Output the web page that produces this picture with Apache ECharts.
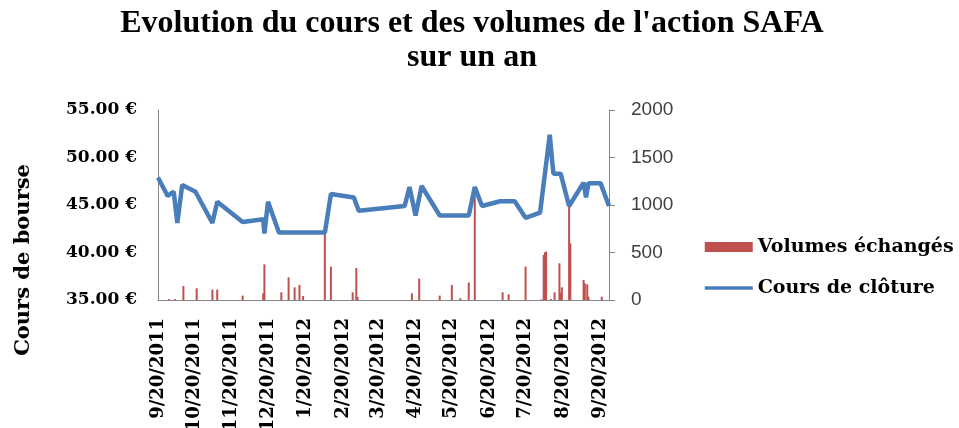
<!DOCTYPE html>
<html>
<head>
<meta charset="utf-8">
<script src="https://cdn.jsdelivr.net/npm/echarts@6/dist/echarts.min.js"></script>
<style>
  html, body { margin: 0; padding: 0; background: #fff; }
  #chart { width: 959px; height: 428px; }
</style>
</head>
<body>
<div id="chart"></div>
<script>
// closing price (left axis)
var coursDates = ['2011-09-20', '2011-09-28', '2011-10-03', '2011-10-06', '2011-10-10', '2011-10-21',
  '2011-11-04', '2011-11-08', '2011-11-29', '2011-12-16', '2011-12-17', '2011-12-20', '2011-12-29',
  '2012-02-05', '2012-02-10', '2012-02-29', '2012-03-04', '2012-04-11', '2012-04-15', '2012-04-20',
  '2012-04-25', '2012-05-10', '2012-06-03', '2012-06-08', '2012-06-14', '2012-06-29', '2012-07-11',
  '2012-07-20', '2012-08-01', '2012-08-09', '2012-08-12', '2012-08-18', '2012-08-25', '2012-09-06',
  '2012-09-08', '2012-09-10', '2012-09-20', '2012-09-27']
var coursValues = [47.9, 45.95, 46.4, 43.1, 47.1, 46.4,
  43.1, 45.35, 43.2, 43.5, 42.0, 45.35, 42.1,
  42.1, 46.15, 45.8, 44.4, 44.9, 46.9, 43.9,
  47.0, 43.9, 43.9, 46.9, 44.9, 45.4, 45.4,
  43.65, 44.2, 52.4, 48.3, 48.3, 44.9, 47.35,
  45.8, 47.3, 47.3, 44.9]

// traded volumes (right axis)
var volumeDates = ['2011-09-29', '2011-10-04', '2011-10-11', '2011-10-22', '2011-11-04', '2011-11-08',
  '2011-11-29', '2011-12-16', '2011-12-17', '2011-12-31', '2012-01-06', '2012-01-11', '2012-01-15',
  '2012-01-18', '2012-02-05', '2012-02-10', '2012-02-28', '2012-03-02', '2012-03-03', '2012-04-17',
  '2012-04-23', '2012-05-10', '2012-05-20', '2012-05-27', '2012-06-03', '2012-06-08', '2012-07-01',
  '2012-07-06', '2012-07-20', '2012-08-02', '2012-08-04', '2012-08-05', '2012-08-06', '2012-08-10',
  '2012-08-13', '2012-08-17', '2012-08-18', '2012-08-19', '2012-08-25', '2012-08-26', '2012-09-06',
  '2012-09-07', '2012-09-09', '2012-09-10', '2012-09-21']
var volumeValues = [10, 10, 147, 123, 109, 109,
  46, 70, 375, 81, 239, 133, 158,
  42, 695, 351, 81, 337, 32, 70,
  225, 46, 158, 18, 184, 1158, 81,
  60, 351, 7, 474, 502, 509, 10,
  81, 386, 77, 133, 990, 597, 211,
  175, 165, 35, 35]

var tickDates = ['2011-09-20', '2011-10-20', '2011-11-20', '2011-12-20', '2012-01-20', '2012-02-20',
  '2012-03-20', '2012-04-20', '2012-05-20', '2012-06-20', '2012-07-20', '2012-08-20', '2012-09-20']
var tickLabels = ['9/20/2011', '10/20/2011', '11/20/2011', '12/20/2011', '1/20/2012', '2/20/2012',
  '3/20/2012', '4/20/2012', '5/20/2012', '6/20/2012', '7/20/2012', '8/20/2012', '9/20/2012']

var xMin = '2011-09-20'
var xMax = '2012-09-27'

function toTime(s) {
  return echarts.time.parse(s).getTime()
}

var tickTimes = tickDates.map(toTime)
var serif = 'DejaVu Serif'
var axisGray = '#868686'

var chart = echarts.init(document.getElementById('chart'))

var option = {
  backgroundColor: '#fff',
  animation: false,
  title: {
    text: "Evolution du cours et des volumes de l'action SAFA\nsur un an",
    left: 467,
    top: 2,
    textAlign: 'center',
    textStyle: {
      fontFamily: 'Liberation Serif',
      fontWeight: 'bold',
      fontSize: 32,
      lineHeight: 34,
      color: '#000'
    }
  },
  legend: {
    orient: 'vertical',
    left: 698,
    top: 231,
    itemWidth: 48,
    itemHeight: 10,
    itemGap: 19,
    data: [
      { name: 'Volumes échangés', icon: 'rect' },
      { name: 'Cours de clôture', itemStyle: { opacity: 0 }, lineStyle: { width: 3.5 } }
    ],
    textStyle: {
      fontFamily: serif,
      fontWeight: 'bold',
      fontSize: 19,
      lineHeight: 22,
      color: '#000'
    }
  },
  graphic: [{
    type: 'text',
    x: 24,
    y: 260,
    rotation: Math.PI / 2,
    style: {
      text: 'Cours de bourse',
      fontFamily: serif,
      fontWeight: 'bold',
      fontSize: 21,
      fill: '#000',
      textAlign: 'center',
      textVerticalAlign: 'middle'
    }
  }],
  grid: {
    left: 158,
    right: 350,
    top: 110,
    bottom: 128,
    outerBoundsMode: 'none'
  },
  xAxis: {
    // dates as timestamps on a value axis, labels on the 20th of each month
    type: 'value',
    min: toTime(xMin),
    max: toTime(xMax),
    axisLine: { lineStyle: { color: axisGray, width: 1 } },
    axisTick: { show: false },
    splitLine: { show: false },
    axisLabel: {
      customValues: tickTimes,
      rotate: 90,
      margin: 18,
      fontFamily: serif,
      fontWeight: 'bold',
      fontSize: 18,
      color: '#000',
      formatter: function (value) {
        var i = tickTimes.indexOf(value)
        return i >= 0 ? tickLabels[i] : ''
      }
    }
  },
  yAxis: [{
    type: 'value',
    position: 'left',
    min: 35,
    max: 55,
    interval: 5,
    axisLine: { show: true, lineStyle: { color: axisGray, width: 1 } },
    axisTick: { show: false },
    splitLine: { show: false },
    axisLabel: {
      margin: 21,
      fontFamily: serif,
      fontWeight: 'bold',
      fontSize: 17,
      color: '#000',
      formatter: function (v) {
        return v.toFixed(2) + ' €'
      }
    }
  }, {
    type: 'value',
    position: 'right',
    min: 0,
    max: 2000,
    interval: 500,
    axisLine: { show: true, lineStyle: { color: axisGray, width: 1 } },
    axisTick: { show: true, length: 6, lineStyle: { color: axisGray } },
    splitLine: { show: false },
    axisLabel: {
      margin: 22,
      fontFamily: 'Liberation Sans',
      fontSize: 19,
      color: '#404040',
      formatter: function (v) {
        return String(v)
      }
    }
  }],
  series: [{
    name: 'Volumes échangés',
    type: 'bar',
    yAxisIndex: 1,
    barWidth: 2,
    itemStyle: { color: '#C0504D' },
    data: volumeDates.map(function (d, i) {
      return [toTime(d), volumeValues[i]]
    })
  }, {
    name: 'Cours de clôture',
    type: 'line',
    yAxisIndex: 0,
    symbol: 'none',
    z: 3,
    itemStyle: { color: '#4A7EBB' },
    lineStyle: { color: '#4A7EBB', width: 4.5 },
    data: coursDates.map(function (d, i) {
      return [toTime(d), coursValues[i]]
    })
  }]
}

chart.setOption(option)
</script>
</body>
</html>
